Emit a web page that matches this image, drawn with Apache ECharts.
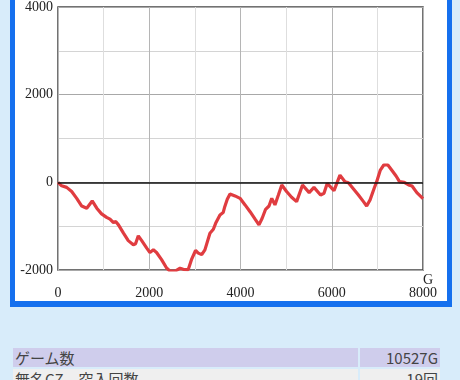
<!DOCTYPE html>
<html>
<head>
<meta charset="utf-8">
<script src="https://cdn.jsdelivr.net/npm/echarts@6/dist/echarts.min.js"></script>
<style>
  html, body { margin: 0; padding: 0; }
  body { width: 460px; height: 380px; overflow: hidden; background: #d8ecfa; position: relative;
         font-family: "Noto Sans CJK JP", "Noto Sans", sans-serif; }
  #frame { position: absolute; left: 10px; top: -10px; width: 432px; height: 311px;
           background: #fff; border: 5px solid #1570ee; border-top: none; border-bottom-width: 6px; }
  #chart { position: absolute; left: 0; top: 0; width: 460px; height: 305px; }
  table { position: absolute; left: 11px; top: 346px; border-spacing: 2px; border-collapse: separate; }
  td { padding: 0 2px; height: 19px; font-size: 15px; line-height: 19px; color: #444; }
  tr.r1 td { background: #cfcdec; }
  tr.r2 td { background: #efefef; }
  td.v { text-align: right; }
</style>
</head>
<body>
<div id="frame"></div>
<div id="chart"></div>
<table>
  <tr class="r1"><td style="width:341px">ゲーム数</td><td class="v" style="width:76px">10527G</td></tr>
  <tr class="r2"><td>無名CZ　突入回数</td><td class="v">19回</td></tr>
</table>
<script>
// 差枚数グラフ（ゲーム数 / 差枚）
var games = [0, 80, 190, 300, 410, 520, 630, 750, 850, 955, 1065, 1140, 1215, 1265, 1325,
  1435, 1540, 1650, 1700, 1760, 1835, 1945, 2015, 2090, 2160, 2270, 2380, 2450, 2560,
  2675, 2745, 2855, 2925, 3015, 3075, 3150, 3220, 3330, 3405, 3455, 3550, 3620, 3655,
  3710, 3770, 3880, 3990, 4100, 4210, 4320, 4405, 4475, 4550, 4625, 4685, 4755, 4830,
  4905, 5010, 5120, 5230, 5360, 5505, 5610, 5755, 5830, 5900, 6050, 6180, 6290, 6365,
  6585, 6695, 6765, 6840, 6930, 6985, 7065, 7140, 7230, 7325, 7410, 7485, 7590, 7685,
  7760, 7865, 8000];
var diff = [0, -80, -115, -210, -365, -540, -590, -425, -590, -720, -800, -840, -920, -895, -970,
  -1160, -1330, -1425, -1400, -1220, -1330, -1500, -1600, -1540, -1600, -1765, -1955, -2020, -2030,
  -1960, -1985, -1990, -1765, -1555, -1615, -1650, -1540, -1160, -1070, -935, -745, -690, -555,
  -385, -265, -310, -365, -515, -670, -840, -970, -820, -615, -540, -365, -515, -290,
  -60, -210, -340, -440, -60, -235, -115, -290, -250, -25, -190, 165, 15, -10,
  -290, -440, -540, -400, -135, 15, 280, 395, 395, 265, 145, 15, 0, -60,
  -85, -235, -370];
var yTicks = [-2000, 0, 2000, 4000];
var xTicks = [0, 2000, 4000, 6000, 8000];

var points = [];
for (var i = 0; i < games.length; i++) {
  points.push([games[i], diff[i]]);
}

var chart = echarts.init(document.getElementById('chart'), null, { renderer: 'canvas' });
var labelFont = { fontFamily: 'Liberation Serif', fontSize: 14, color: '#222' };

var option = {
  animation: false,
  backgroundColor: 'transparent',
  grid: {
    left: 58, top: 6, width: 365, height: 264,
    show: true, borderColor: '#444', borderWidth: 1.5, backgroundColor: '#fff'
  },
  xAxis: {
    type: 'value', min: 0, max: 8000, interval: 1000,
    axisLine: { show: false }, axisTick: { show: false },
    axisLabel: Object.assign({
      margin: 16, showMinLabel: true, showMaxLabel: true,
      formatter: function (v) { return xTicks.indexOf(v) >= 0 ? String(v) : ''; }
    }, labelFont),
    splitLine: { show: true, lineStyle: { color: ['#b5b5b5', '#dedede'], width: 1 } }
  },
  yAxis: {
    type: 'value', min: -2000, max: 4000, interval: 1000,
    axisLine: { show: false }, axisTick: { show: false },
    axisLabel: Object.assign({
      margin: 5, showMinLabel: true, showMaxLabel: true,
      formatter: function (v) { return yTicks.indexOf(v) >= 0 ? String(v) : ''; }
    }, labelFont),
    splitLine: { show: true, lineStyle: { color: ['#a8a8a8', '#d4d4d4'], width: 1 } }
  },
  graphic: [
    { type: 'text', left: 423, top: 273, style: { text: 'G', font: '14px "Liberation Serif"', fill: '#222' } }
  ],
  series: [{
    type: 'line',
    data: points,
    showSymbol: false,
    clip: true,
    lineStyle: { color: '#e03c40', width: 3.2 },
    markLine: {
      silent: true, symbol: 'none', label: { show: false },
      lineStyle: { color: '#111', width: 1.5, type: 'solid' },
      data: [{ yAxis: 0 }]
    },
    z: 3
  }]
};

chart.setOption(option);
</script>
</body>
</html>
